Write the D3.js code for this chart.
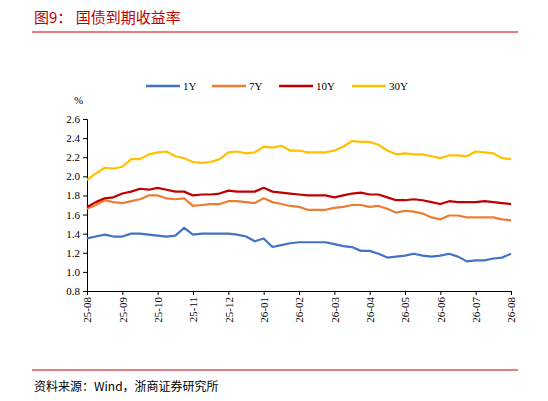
<!DOCTYPE html>
<html><head><meta charset="utf-8">
<script src="https://cdn.jsdelivr.net/npm/d3@7"></script>
<style>body{margin:0;background:#fff}</style>
</head><body>
<script>
// month offsets from 25-08, weekly-ish sampling
var months = d3.range(0, 12.01, 0.25);
var tickLabels = ["25-08","25-09","25-10","25-11","25-12","26-01","26-02","26-03","26-04","26-05","26-06","26-07","26-08"];
var y1 = [1.35,1.37,1.39,1.37,1.37,1.40,1.40,1.39,1.38,1.37,1.38,1.46,1.39,1.40,1.40,1.40,1.40,1.39,1.37,1.32,1.35,1.26,1.28,1.30,1.31,1.31,1.31,1.31,1.29,1.27,1.26,1.22,1.22,1.19,1.15,1.16,1.17,1.19,1.17,1.16,1.17,1.19,1.16,1.11,1.12,1.12,1.14,1.15,1.19];
var y7 = [1.66,1.70,1.75,1.73,1.72,1.74,1.76,1.80,1.80,1.77,1.76,1.77,1.69,1.70,1.71,1.71,1.74,1.74,1.73,1.72,1.77,1.73,1.71,1.69,1.68,1.65,1.65,1.65,1.67,1.68,1.70,1.70,1.68,1.69,1.66,1.62,1.64,1.63,1.61,1.57,1.55,1.59,1.59,1.57,1.57,1.57,1.57,1.55,1.54];
var y10 = [1.68,1.73,1.77,1.78,1.82,1.84,1.87,1.86,1.88,1.86,1.84,1.84,1.80,1.81,1.81,1.82,1.85,1.84,1.84,1.84,1.88,1.84,1.83,1.82,1.81,1.80,1.80,1.80,1.78,1.80,1.82,1.83,1.81,1.81,1.78,1.75,1.75,1.76,1.75,1.73,1.71,1.74,1.73,1.73,1.73,1.74,1.73,1.72,1.71];
var y30 = [1.96,2.03,2.09,2.08,2.10,2.18,2.18,2.23,2.25,2.26,2.21,2.19,2.15,2.14,2.15,2.18,2.25,2.26,2.24,2.25,2.31,2.30,2.32,2.27,2.27,2.25,2.25,2.25,2.27,2.31,2.37,2.36,2.36,2.33,2.27,2.23,2.24,2.23,2.23,2.21,2.19,2.22,2.22,2.21,2.26,2.25,2.24,2.19,2.18];
var seriesNames = ["1Y","7Y","10Y","30Y"];
var seriesColors = ["#4472c4","#ed7d31","#c00000","#ffc000"];
var yTicks = [0.8,1.0,1.2,1.4,1.6,1.8,2.0,2.2,2.4,2.6];

var width = 548, height = 401;
var svg = d3.select("body").append("svg").attr("width", width).attr("height", height);
var serif = "'Liberation Serif','DejaVu Serif',serif";
var cjk = "'Noto Sans CJK SC',sans-serif";

// title + rules
svg.append("text").attr("x", 34).attr("y", 23).attr("fill", "#c00000")
  .style("font-family", cjk).style("font-size", "15px").text("图9：  国债到期收益率");
svg.append("line").attr("x1", 32).attr("x2", 518).attr("y1", 32).attr("y2", 32)
  .attr("stroke", "#c00000").attr("stroke-width", 1);
svg.append("line").attr("x1", 32).attr("x2", 518).attr("y1", 370).attr("y2", 370)
  .attr("stroke", "#c00000").attr("stroke-width", 1);
svg.append("text").attr("x", 34).attr("y", 391).attr("fill", "#000")
  .style("font-family", cjk).style("font-size", "12px").text("资料来源：Wind，浙商证券研究所");

var x = d3.scaleLinear().domain([0, 12]).range([87, 511]);
var y = d3.scaleLinear().domain([0.8, 2.6]).range([291, 119]);

var yAxis = svg.append("g").attr("transform", "translate(87,0)")
  .call(d3.axisLeft(y).tickValues(yTicks).tickFormat(d3.format(".1f")).tickSize(4));
var xAxis = svg.append("g").attr("transform", "translate(0,291)")
  .call(d3.axisBottom(x).tickValues(d3.range(13)).tickFormat(function(d){ return tickLabels[d]; }).tickSize(4));
[yAxis, xAxis].forEach(function(g){
  g.select(".domain").attr("stroke", "#000");
  g.selectAll("line").attr("stroke", "#000");
  g.selectAll("text").style("font-family", serif).style("font-size", "11px").attr("fill", "#000");
});
xAxis.selectAll("text").attr("transform", "rotate(-90)")
  .attr("text-anchor", "end").attr("x", -6).attr("y", 0).attr("dy", "0.35em");
svg.append("text").attr("x", 74).attr("y", 104).style("font-family", serif)
  .style("font-size", "11px").text("%");

var all = [y1, y7, y10, y30];
var line = d3.line().x(function(d, i){ return x(months[i]); }).y(function(d){ return y(d); });
all.forEach(function(vals, k){
  svg.append("path").datum(vals).attr("d", line).attr("fill", "none")
    .attr("stroke", seriesColors[k]).attr("stroke-width", 2.2).attr("stroke-linejoin", "round");
});

// legend
var legX = [146, 212, 279, 352];
seriesNames.forEach(function(n, k){
  svg.append("line").attr("x1", legX[k]).attr("x2", legX[k] + 34).attr("y1", 86).attr("y2", 86)
    .attr("stroke", seriesColors[k]).attr("stroke-width", 2.5);
  svg.append("text").attr("x", legX[k] + 37).attr("y", 90).style("font-family", serif)
    .style("font-size", "11px").text(n);
});
</script>
</body></html>
